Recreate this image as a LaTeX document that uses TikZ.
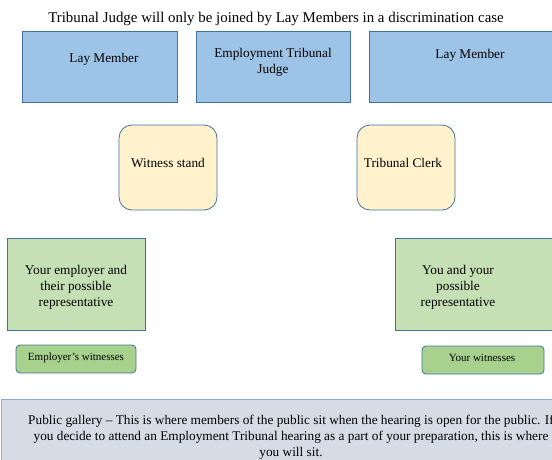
\documentclass[tikz,border=0pt]{standalone}
\usepackage{fontspec}
\setmainfont{Liberation Serif}
\definecolor{bluefill}{HTML}{9DC3E6}
\definecolor{blueedge}{HTML}{41719C}
\definecolor{yellowfill}{HTML}{FFF2CC}
\definecolor{greenfill}{HTML}{C5E0B4}
\definecolor{darkgreen}{HTML}{A9D18E}
\definecolor{greyfill}{HTML}{D6DCE5}
\definecolor{greyedge}{HTML}{8FAADC}
\begin{document}
\begin{tikzpicture}[x=1pt,y=-1pt,
  txt/.style={inner sep=0pt,align=center,font=\fontsize{13.3}{16}\selectfont},
  bluebox/.style={draw=blueedge,fill=bluefill,line width=0.8pt},
  yellowbox/.style={draw=blueedge,fill=yellowfill,line width=0.8pt,rounded corners=13pt},
  greenbox/.style={draw=blueedge,fill=greenfill,line width=0.8pt},
  witbox/.style={draw=blueedge,fill=darkgreen,line width=0.8pt,rounded corners=4pt},
  greybox/.style={draw=greyedge,fill=greyfill,line width=0.8pt}]
\useasboundingbox (0,0) rectangle (552,459);
\clip (0,0) rectangle (552,459);
\node[txt,font=\fontsize{14.9}{16}\selectfont] (title) at (276,19) {Tribunal Judge will only be joined by Lay Members in a discrimination case};
\draw[bluebox] (22,31) rectangle (177,102);
\node[txt] (lm1) at (104,59) {Lay Member};
\draw[bluebox] (196,31) rectangle (350,102);
\node[txt] (judge) at (273,62) {Employment Tribunal\\Judge};
\draw[bluebox] (369,31) rectangle (570,102);
\node[txt] (lm2) at (470,55) {Lay Member};
\draw[yellowbox] (119,125) rectangle (217,210);
\node[txt] (wit) at (168,163) {Witness stand};
\draw[yellowbox] (357,125) rectangle (455,210);
\node[txt] (clerk) at (403,163) {Tribunal Clerk};
\draw[greenbox] (7,238) rectangle (145,330);
\node[txt] (emp) at (76,287) {Your employer and\\their possible\\representative};
\draw[greenbox] (395,238) rectangle (570,330);
\node[txt] (you) at (458,287) {You and your\\possible\\representative};
\draw[witbox] (16,345) rectangle (136,373);
\node[txt,font=\fontsize{11}{14}\selectfont] (empwit) at (76,358) {Employer’s witnesses};
\draw[witbox] (422,346) rectangle (544,374);
\node[txt,font=\fontsize{11}{14}\selectfont] (yourwit) at (482,358) {Your witnesses};
\draw[greybox] (1,399) rectangle (570,470);
\node[txt] (gallery) at (291,437) {Public gallery – This is where members of the public sit when the hearing is open for the public. If\\you decide to attend an Employment Tribunal hearing as a part of your preparation, this is where\\you will sit.};
\end{tikzpicture}
\end{document}
